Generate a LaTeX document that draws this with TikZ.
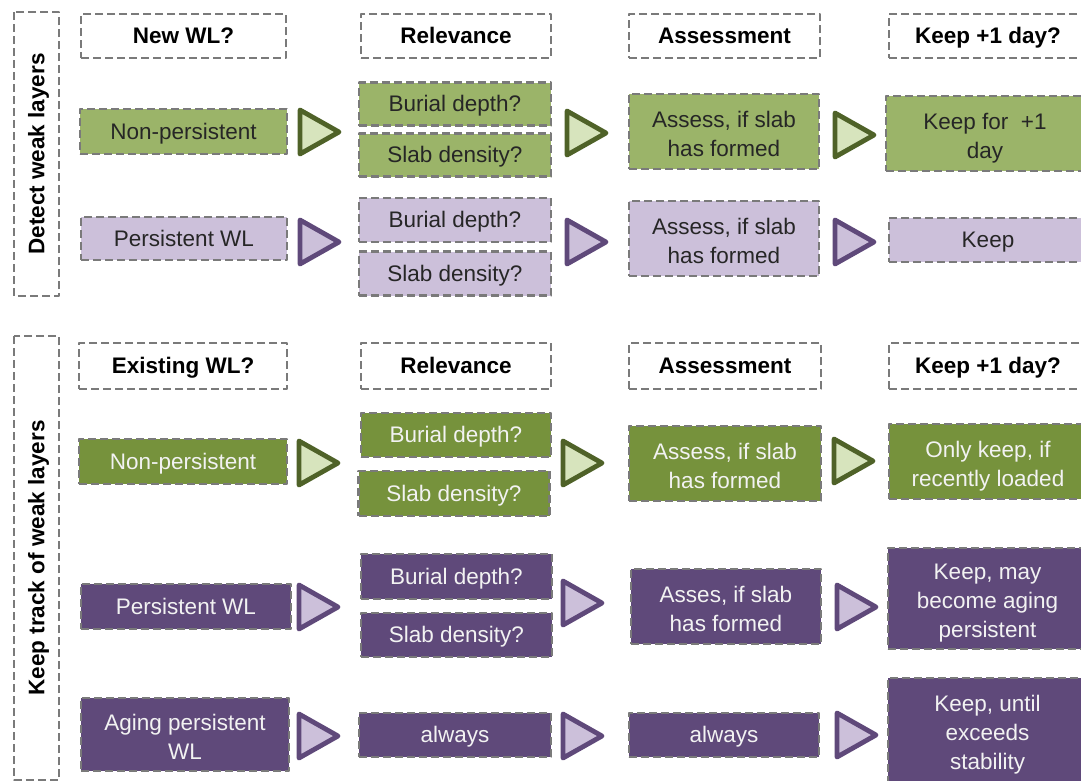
\documentclass[tikz,border=0pt]{standalone}
\usepackage{fontspec}
\setmainfont{Liberation Sans}
\usepackage{tikz}
\usetikzlibrary{positioning}
\definecolor{dashgray}{HTML}{7A7A7A}
\definecolor{lgreen}{HTML}{9BB469}
\definecolor{dgreen}{HTML}{76923C}
\definecolor{trigreen}{HTML}{4F6228}
\definecolor{trigreenfill}{HTML}{D7E4BD}
\definecolor{lpurple}{HTML}{CCC0DA}
\definecolor{dpurple}{HTML}{5F497A}
\definecolor{darktext}{HTML}{262626}
\definecolor{lighttext}{HTML}{F2F2F2}
\newcommand{\fs}{\fontsize{22.5}{29}\selectfont}
% triangle marker: left x, middle y, style
\newcommand{\tri}[3]{\draw[#3] (#1+2,#2-22) -- (#1+41,#2) -- (#1+2,#2+22) -- cycle;}

\begin{document}
\begin{tikzpicture}[x=1pt, y=-1pt, line join=round]
\useasboundingbox (0,0) rectangle (1081,780);
\clip (0,0) rectangle (1081,780);
\tikzstyle{box} = [draw=dashgray, line width=2.8pt, dash pattern=on 8pt off 4pt, inner sep=0pt, align=center, font=\fs,
  execute at begin node={\rule[-4.8pt]{0pt}{25.2pt}}]
\tikzset{ml/.style={execute at begin node={\rule{0pt}{#1pt}}}}
\tikzstyle{head} = [box, fill=white, font=\fs\bfseries, text=black]
\tikzstyle{side} = [head, rotate=90, minimum height=45]
\tikzstyle{lgr} = [box, fill=lgreen, text=darktext]
\tikzstyle{dgr} = [box, fill=dgreen, text=lighttext]
\tikzstyle{lpu} = [box, fill=lpurple, text=darktext]
\tikzstyle{dpu} = [box, fill=dpurple, text=lighttext]
\tikzstyle{gtri} = [draw=trigreen, fill=trigreenfill, line width=4.8pt]
\tikzstyle{ptri} = [draw=dpurple, fill=lpurple, line width=4.8pt]

% side labels
\node[side, minimum width=284] (detect) at (36.5,154) {Detect weak layers};
\node[side, minimum width=444] (track) at (36.5,558) {Keep track of weak layers};

% headers, upper part
\node[head, minimum width=205, minimum height=44] (newwl) at (183.5,36) {New WL?};
\node[head, minimum width=190, minimum height=44] (rel1) at (456,36) {Relevance};
\node[head, minimum width=191, minimum height=44] (ass1) at (724.5,36) {Assessment};
\node[head, minimum width=198, minimum height=44] (keep1) at (988,36) {Keep +1 day?};

% new non-persistent
\node[lgr, minimum width=207, minimum height=45] (np1) at (183.5,131.5) {Non-persistent};
\tri{298}{132}{gtri}
\node[lgr, minimum width=192, minimum height=43] (bd1) at (455,104) {Burial depth?};
\node[lgr, minimum width=192, minimum height=43] (sd1) at (455,155) {Slab density?};
\tri{565}{133}{gtri}
\node[lgr, ml=54, minimum width=190, minimum height=75] (as1) at (724,131.5) {Assess, if slab\\has formed};
\tri{833}{135}{gtri}
\node[lgr, ml=54, minimum width=198, minimum height=75] (kp1) at (985,133.5) {Keep for \ +1\\day};

% new persistent
\node[lpu, minimum width=206, minimum height=43] (pw2) at (184,238.5) {Persistent WL};
\tri{298}{242}{ptri}
\node[lpu, minimum width=192, minimum height=44] (bd2) at (455,220) {Burial depth?};
\node[lpu, minimum width=192, minimum height=44] (sd2) at (455,273.5) {Slab density?};
\tri{565}{242}{ptri}
\node[lpu, ml=54, minimum width=190, minimum height=75] (as2) at (724,238.5) {Assess, if slab\\has formed};
\tri{833}{242}{ptri}
\node[lpu, minimum width=198, minimum height=44] (kp2) at (988,240) {Keep};

% headers, lower part
\node[head, minimum width=208, minimum height=46] (exwl) at (183,366) {Existing WL?};
\node[head, minimum width=190, minimum height=46] (rel2) at (456,366) {Relevance};
\node[head, minimum width=192, minimum height=46] (ass2) at (725,366) {Assessment};
\node[head, minimum width=198, minimum height=46] (keep2) at (988,366) {Keep +1 day?};

% existing non-persistent
\node[dgr, minimum width=208, minimum height=45] (np3) at (183,461.5) {Non-persistent};
\tri{297}{463}{gtri}
\node[dgr, minimum width=190, minimum height=44] (bd3) at (456,435) {Burial depth?};
\node[dgr, minimum width=191, minimum height=45] (sd3) at (454,493.5) {Slab density?};
\tri{561}{463}{gtri}
\node[dgr, ml=54, minimum width=192, minimum height=75] (as3) at (725,463.5) {Assess, if slab\\has formed};
\tri{832}{461}{gtri}
\node[dgr, ml=54, minimum width=198, minimum height=75] (ok3) at (988,461.5) {Only keep, if\\recently loaded};

% existing persistent
\node[dpu, minimum width=210, minimum height=45] (pw4) at (186,606.5) {Persistent WL};
\tri{297}{607}{ptri}
\node[dpu, minimum width=191, minimum height=45] (bd4) at (456.5,576.5) {Burial depth?};
\node[dpu, minimum width=191, minimum height=44] (sd4) at (456.5,635) {Slab density?};
\tri{561}{603}{ptri}
\node[dpu, ml=54, minimum width=190, minimum height=75] (as4) at (726,606.5) {Asses, if slab\\has formed};
\tri{835}{607}{ptri}
\node[dpu, ml=83, minimum width=199, minimum height=101] (kp4) at (987.5,598.5) {Keep, may\\become aging\\persistent};

% aging persistent
\node[dpu, ml=54, minimum width=208, minimum height=73] (ap5) at (185,734.5) {Aging persistent\\WL};
\tri{297}{736}{ptri}
\node[dpu, minimum width=192, minimum height=44] (al5a) at (455,735) {always};
\tri{561}{736}{ptri}
\node[dpu, minimum width=190, minimum height=44] (al5b) at (724,735) {always};
\tri{835}{735}{ptri}
\node[dpu, ml=83, minimum width=199, minimum height=104] (ku5) at (987.5,730) {Keep, until\\exceeds\\stability};
\end{tikzpicture}
\end{document}
